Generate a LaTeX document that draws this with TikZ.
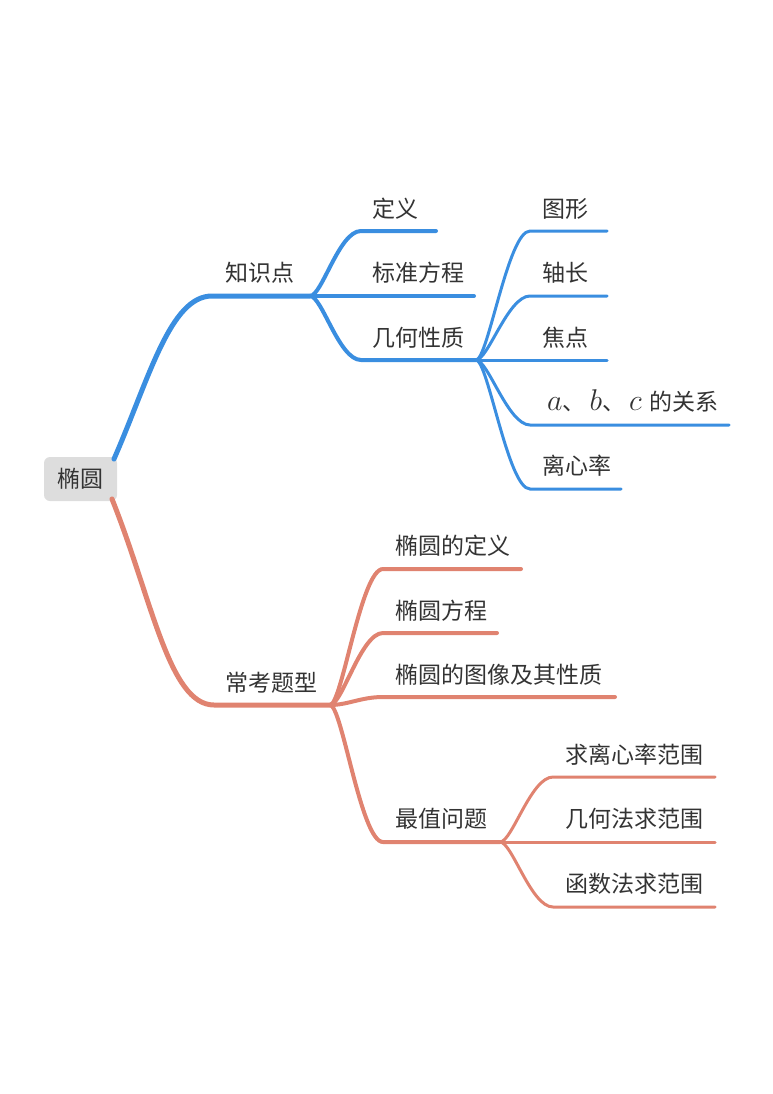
\RequirePackage{fix-cm}
\documentclass[tikz,border=0pt]{standalone}
\usepackage{fontspec}
\setmainfont{Noto Sans CJK SC}
\definecolor{mmblue}{RGB}{58,142,224}
\definecolor{mmcoral}{RGB}{224,131,112}
\definecolor{mmtext}{RGB}{51,51,51}
\definecolor{mmroot}{RGB}{221,221,221}
\newcommand{\mvar}[1]{{\fontsize{30}{34}\selectfont$#1$}}
\begin{document}
\begin{tikzpicture}[x=1pt,y=-1pt,
  lbl/.style={anchor=west,inner sep=0pt,text=mmtext,font=\fontsize{23}{27}\selectfont},
  rootbox/.style={fill=mmroot,rounded corners=6pt,minimum width=73pt,minimum height=44pt,inner sep=0pt,text=mmtext,font=\fontsize{23}{27}\selectfont},
  lvA/.style={line width=5pt,line cap=round},
  lvB/.style={line width=4pt,line cap=round},
  lvC/.style={line width=3pt,line cap=round}]
\useasboundingbox (0,0) rectangle (772,1094);

% root
\node[rootbox] (root) at (80.5,479) {椭圆};
\coordinate (rtop) at (114,459);
\coordinate (rbot) at (112,499);

% ---------------- blue branch ----------------
\coordinate (k0) at (212,296);
\coordinate (kf) at (310,296);
\node[lbl] (zsd) at (225,273) {知识点};
\draw[lvA,mmblue] (rtop) .. controls +(35,-80) and +(-42,0) .. (k0) -- (kf);

\coordinate (dy0) at (361,231); \coordinate (dy1) at (436,231);
\coordinate (bz1) at (474,296);
\coordinate (jh0) at (361,360); \coordinate (jhf) at (476,360);
\node[lbl] (dy) at (372,209) {定义};
\node[lbl] (bz) at (372,273) {标准方程};
\node[lbl] (jh) at (372,338) {几何性质};
\draw[lvB,mmblue] (kf) .. controls +(12,0) and +(-22,0) .. (dy0) -- (dy1);
\draw[lvB,mmblue] (kf) -- (bz1);
\draw[lvB,mmblue] (kf) .. controls +(12,0) and +(-22,0) .. (jh0) -- (jhf);

\coordinate (tx0) at (530,231); \coordinate (tx1) at (607,231);
\coordinate (zc0) at (530,296); \coordinate (zc1) at (607,296);
\coordinate (jd1) at (607,360);
\coordinate (gx0) at (530,425); \coordinate (gx1) at (729,425);
\coordinate (lx0) at (530,489); \coordinate (lx1) at (621,489);
\node[lbl] (tx) at (542,209) {图形};
\node[lbl] (zc) at (542,273) {轴长};
\node[lbl] (jd) at (542,338) {焦点};
\node[lbl,anchor=base west] (gx) at (547,410) {\mvar{a}、\hspace{4pt}\mvar{b}、\hspace{4pt}\mvar{c}\hspace{8pt}的关系};
\node[lbl] (lx) at (542,466) {离心率};
\draw[lvC,mmblue] (jhf) .. controls +(12,0) and +(-22,0) .. (tx0) -- (tx1);
\draw[lvC,mmblue] (jhf) .. controls +(12,0) and +(-22,0) .. (zc0) -- (zc1);
\draw[lvC,mmblue] (jhf) -- (jd1);
\draw[lvC,mmblue] (jhf) .. controls +(12,0) and +(-22,0) .. (gx0) -- (gx1);
\draw[lvC,mmblue] (jhf) .. controls +(12,0) and +(-22,0) .. (lx0) -- (lx1);

% ---------------- coral branch ----------------
\coordinate (c0) at (214,705);
\coordinate (cf) at (330,705);
\node[lbl] (ckt) at (225,683) {常考题型};
\draw[lvA,mmcoral] (rbot) .. controls +(40,100) and +(-45,0) .. (c0) -- (cf);

\coordinate (a0) at (383,569); \coordinate (a1) at (521,569);
\coordinate (b0) at (383,633); \coordinate (b1) at (497,633);
\coordinate (e0) at (383,697); \coordinate (e1) at (615,697);
\coordinate (m0) at (383,842); \coordinate (mf) at (500,842);
\node[lbl] (a) at (395,546) {椭圆的定义};
\node[lbl] (b) at (395,611) {椭圆方程};
\node[lbl] (e) at (395,675) {椭圆的图像及其性质};
\node[lbl] (m) at (395,819) {最值问题};
\draw[lvB,mmcoral] (cf) .. controls +(12,0) and +(-22,0) .. (a0) -- (a1);
\draw[lvB,mmcoral] (cf) .. controls +(12,0) and +(-22,0) .. (b0) -- (b1);
\draw[lvB,mmcoral] (cf) .. controls +(18,0) and +(-22,0) .. (e0) -- (e1);
\draw[lvB,mmcoral] (cf) .. controls +(12,0) and +(-22,0) .. (m0) -- (mf);

\coordinate (q0) at (553,777); \coordinate (q1) at (715,777);
\coordinate (g1) at (715,842);
\coordinate (h0) at (553,907); \coordinate (h1) at (715,907);
\node[lbl] (q) at (565,755) {求离心率范围};
\node[lbl] (g) at (565,819) {几何法求范围};
\node[lbl] (h) at (565,884) {函数法求范围};
\draw[lvC,mmcoral] (mf) .. controls +(12,0) and +(-22,0) .. (q0) -- (q1);
\draw[lvC,mmcoral] (mf) -- (g1);
\draw[lvC,mmcoral] (mf) .. controls +(12,0) and +(-22,0) .. (h0) -- (h1);
\end{tikzpicture}
\end{document}
